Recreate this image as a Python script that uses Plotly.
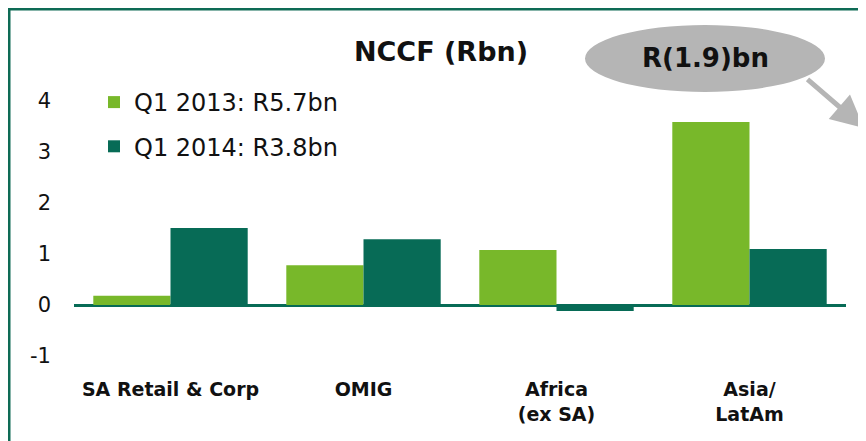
import plotly.graph_objects as go

categories = ["SA Retail & Corp", "OMIG", "Africa<br>(ex SA)", "Asia/<br>LatAm"]
q1_2013 = [0.18, 0.78, 1.08, 3.59]
q1_2014 = [1.51, 1.29, -0.12, 1.10]
series_names = ["Q1 2013: R5.7bn", "Q1 2014: R3.8bn"]
y_ticks = [-1, 0, 1, 2, 3, 4]
y_tick_text = ["-1", "0", "1", "2", "3", "4"]
title_text = "NCCF (Rbn)"
callout_text = "R(1.9)bn"

LIGHT = "#78b82a"
DARK = "#076b56"
FRAME = "#0e6b55"

OFF = 8  # page body margin
W, H = 866, 441
# plot area in screen pixels: x 74..846, y 50..356
L, R, T = 74 - OFF, W - 846 + OFF, 50 - OFF
B = H - (356 - OFF)
pw, ph = W - L - R, H - T - B

def px(x):
    return (x - OFF - L) / pw

def py(y):
    return (H - B - (y - OFF)) / ph

fig = go.Figure()
fig.add_trace(go.Bar(x=categories, y=q1_2013, name=series_names[0],
                     marker=dict(color=LIGHT, line=dict(width=0)), legendgroup="a"))
fig.add_trace(go.Bar(x=categories, y=q1_2014, name=series_names[1],
                     marker=dict(color=DARK, line=dict(width=0)), legendgroup="b"))

body_font = "'DejaVu Sans', sans-serif"
bold_font = "'DejaVu Sans', sans-serif"
fig.update_layout(
    width=W, height=H,
    margin=dict(l=L, r=R, t=T, b=B, autoexpand=False),
    plot_bgcolor="white", paper_bgcolor="white",
    barmode="group", bargap=0.2, bargroupgap=0,
    font=dict(family=body_font, color="#111111"),
    showlegend=True,
    legend=dict(x=px(94), y=py(80), xanchor="left", yanchor="top",
                font=dict(size=24, family=body_font, color="#111111"),
                bgcolor="rgba(0,0,0,0)", tracegroupgap=10,
                itemwidth=30),
    xaxis=dict(showline=False, showgrid=False, ticks="", automargin=False,
               tickfont=dict(size=19, family=bold_font, color="#111111", weight="bold"),
               ticklabelstandoff=20),
    yaxis=dict(range=[-1, 5], tickvals=y_ticks, ticktext=y_tick_text,
               showgrid=False, showline=False, automargin=False,
               zeroline=True, zerolinecolor=DARK, zerolinewidth=2.5,
               tickfont=dict(size=21, family=body_font, color="#111111"),
               ticklabelstandoff=22),
    title=dict(text="<b>" + title_text + "</b>", x=(441 - OFF) / W, xanchor="center",
               y=1 - (52 - OFF) / H, yanchor="middle",
               font=dict(size=27, family=bold_font, color="#111111")),
)

# frame
fig.add_shape(type="rect", xref="paper", yref="paper",
              x0=px(9), x1=px(W + 40), y0=py(H + 40), y1=py(9),
              line=dict(color=FRAME, width=3), fillcolor="rgba(0,0,0,0)", layer="above")

# callout ellipse
fig.add_shape(type="circle", xref="paper", yref="paper",
              x0=px(585), x1=px(825), y0=py(92), y1=py(25),
              line=dict(width=0), fillcolor="#b5b5b5", layer="above")
fig.add_annotation(xref="paper", yref="paper", x=px(705), y=py(58),
                   xanchor="center", yanchor="middle",
                   text="<b>" + callout_text + "</b>", showarrow=False,
                   font=dict(size=26, family=bold_font, color="#111111"))
fig.add_annotation(xref="paper", yref="paper", x=px(864), y=py(128),
                   ax=-58, ay=-50, text="", showarrow=True,
                   arrowcolor="#b5b5b5", arrowwidth=5, arrowhead=2, arrowsize=1.3)

fig.write_html("out.html")
